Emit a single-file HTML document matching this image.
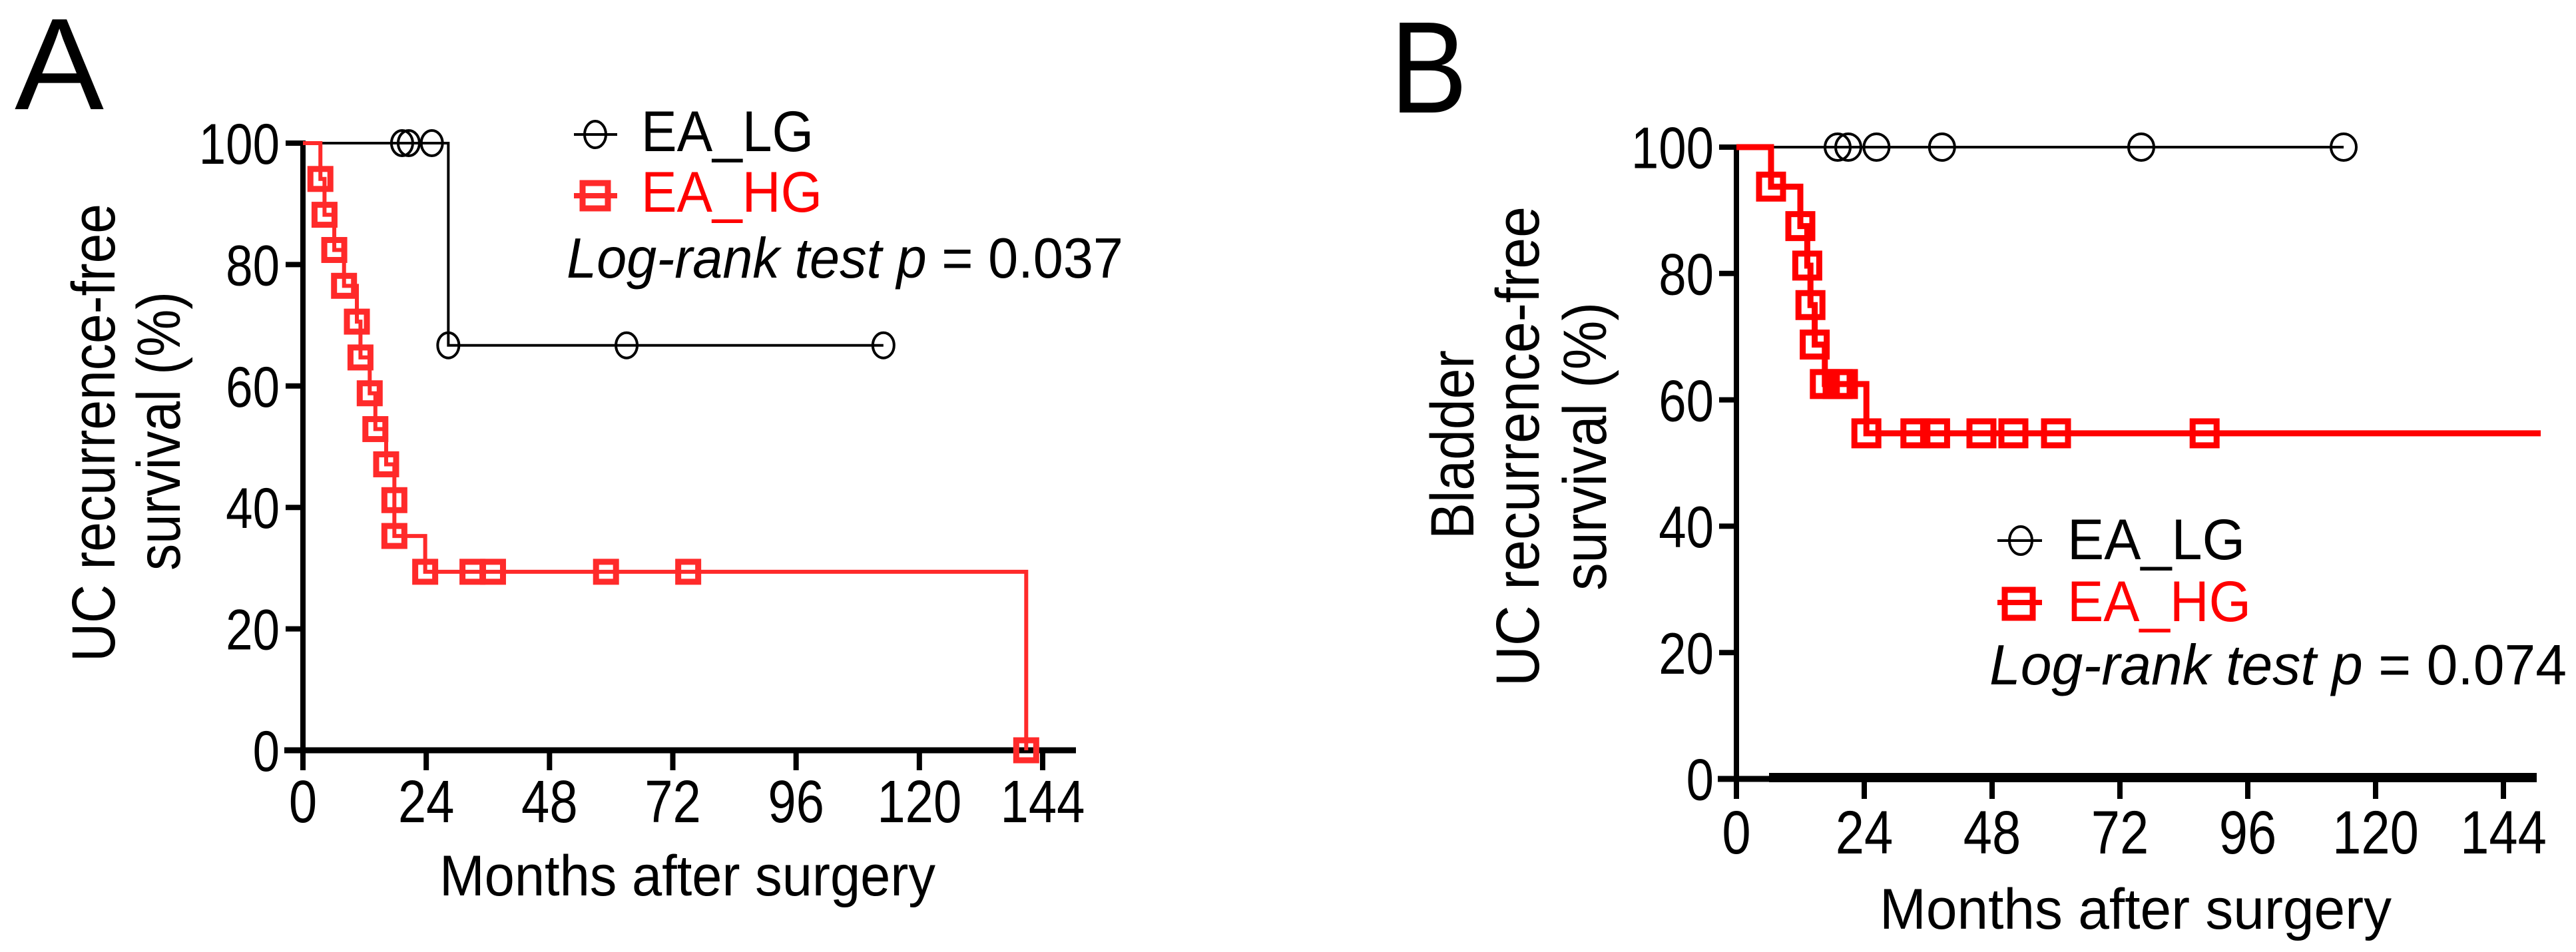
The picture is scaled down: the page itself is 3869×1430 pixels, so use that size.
<!DOCTYPE html>
<html><head><meta charset="utf-8"><style>
html,body{margin:0;padding:0;background:#fff}
svg{display:block}
text{font-family:"Liberation Sans",Arial,sans-serif}
</style></head><body>
<svg id="fig" width="3869" height="1430" viewBox="0 0 3869 1430" xmlns="http://www.w3.org/2000/svg">
<text x="22" y="164" font-size="196" textLength="134" lengthAdjust="spacingAndGlyphs">A</text>
<text x="2088" y="169" font-size="196" textLength="116" lengthAdjust="spacingAndGlyphs">B</text>
<g id="pa"></g>
<g id="pb"></g>
</svg>
<script>
// ---------- data ----------
const xTicks = [0, 24, 48, 72, 96, 120, 144];
const yTicks = [0, 20, 40, 60, 80, 100];
// Panel A
const aLgEventT = [28.3];
const aLgEventS = [66.7];
const aLgCensorT = [19.3, 20.6, 25.1, 63, 113];
const aLgCensorS = [100, 100, 100, 66.7, 66.7];
const aLgEnd = 113;
const aHgEventT = [3.4, 4.2, 6.1, 8.0, 10.5, 11.2, 13.0, 14.1, 16.2, 17.8, 17.8, 23.8, 140.8];
const aHgEventS = [94.1, 88.2, 82.4, 76.5, 70.6, 64.7, 58.8, 52.9, 47.1, 41.2, 35.3, 29.4, 0];
const aHgCensorT = [33, 37, 59, 75];
const aHgCensorS = [29.4, 29.4, 29.4, 29.4];
const aHgEnd = 140.8;
// Panel B
const bLgEventT = [];
const bLgEventS = [];
const bLgCensorT = [19, 21, 26.3, 38.6, 76, 114];
const bLgCensorS = [100, 100, 100, 100, 100, 100];
const bLgEnd = 114;
const bHgEventT = [6.5, 12, 13.3, 13.9, 14.7, 16.6, 24.4];
const bHgEventS = [93.75, 87.5, 81.25, 75, 68.75, 62.5, 54.7];
const bHgCensorT = [19, 20, 33.6, 37.3, 46, 52, 60, 87.9];
const bHgCensorS = [62.5, 62.5, 54.7, 54.7, 54.7, 54.7, 54.7, 54.7];
const bHgEnd = 151;

const NS = "http://www.w3.org/2000/svg";
function mk(parent, tag, attrs){ const e=document.createElementNS(NS,tag); for(const k in attrs) e.setAttribute(k,attrs[k]); parent.appendChild(e); return e; }

function drawPanel(g, cfg){
  const sx = t => cfg.x0 + (t/144)*(cfg.x144-cfg.x0);
  const sy = s => cfg.y0 - (s/100)*(cfg.y0-cfg.y100);
  // axes
  const ya = mk(g,'line',{x1:sx(0),y1:cfg.y100-4,x2:sx(0),y2:cfg.y0+4,stroke:'#000','stroke-width':8});
  
  
  const xa = mk(g,'line',{x1:cfg.x0-28,y1:cfg.y0,x2:cfg.xEnd,y2:cfg.y0,stroke:'#000','stroke-width':cfg.xw});
  
  
  yTicks.forEach(v=>{
    const t = mk(g,'line',{x1:cfg.x0-26,y1:sy(v),x2:cfg.x0,y2:sy(v),stroke:'#000','stroke-width':8});
    
    
    const s=String(v);
    const lb = mk(g,'text',{x:cfg.ylabR,y:sy(v)+cfg.yfs*0.36,'font-size':cfg.yfs,'text-anchor':'end',textLength:s.length*cfg.yfs*0.47,lengthAdjust:'spacingAndGlyphs'});
    lb.textContent=s;
    
    
  });
  xTicks.forEach(v=>{
    const t = mk(g,'line',{x1:sx(v),y1:cfg.y0,x2:sx(v),y2:cfg.y0+30,stroke:'#000','stroke-width':8});
    
    
    const s=String(v);
    const lb = mk(g,'text',{x:sx(v),y:cfg.xlabY,'font-size':cfg.xfs,'text-anchor':'middle',textLength:s.length*cfg.xfs*0.47,lengthAdjust:'spacingAndGlyphs'});
    lb.textContent=s;
    
    
  });
  // series
  cfg.series.forEach(se=>{
    let d = 'M'+sx(0)+' '+sy(100);
    let cur = 100;
    se.et.forEach((t,i)=>{ d += ' H'+sx(t)+' V'+sy(se.es[i]); cur=se.es[i]; });
    d += ' H'+sx(se.end);
    const p = mk(g,'path',{d:d,fill:'none',stroke:se.color,'stroke-width':se.lw});
    
    
    const pts = se.et.map((t,i)=>[t,se.es[i]]).concat(se.ct.map((t,i)=>[t,se.cs[i]]));
    pts.forEach(pt=>{
      let m;
      if(se.shape==='circle'){
        m = mk(g,'ellipse',{cx:sx(pt[0]),cy:sy(pt[1]),rx:se.r,ry:se.ry,fill:'none',stroke:se.color,'stroke-width':4});
      } else {
        m = mk(g,'rect',{x:sx(pt[0])-se.r,y:sy(pt[1])-se.r,width:2*se.r,height:2*se.r,fill:'none',stroke:se.color,'stroke-width':9});
      }
      
      
    });
  });
}

drawPanel(document.getElementById('pa'),{
  x0:455,x144:1566,y0:1127,y100:215,xEnd:1616,xw:9,ylabR:420,yfs:86,xfs:90,xlabY:1235,
  series:[
    {name:'ea-lg',et:aLgEventT,es:aLgEventS,ct:aLgCensorT,cs:aLgCensorS,end:aLgEnd,color:'#000',lw:4,shape:'circle',r:16,ry:19},
    {name:'ea-hg',et:aHgEventT,es:aHgEventS,ct:aHgCensorT,cs:aHgCensorS,end:aHgEnd,color:'#ff2a2a',lw:6,shape:'square',r:15}
  ]});
drawPanel(document.getElementById('pb'),{
  x0:2608,x144:3760,y0:1170,y100:221,xEnd:3810,xw:9,ylabR:2574,yfs:88,xfs:92,xlabY:1282,
  series:[
    {name:'ea-lg',et:bLgEventT,es:bLgEventS,ct:bLgCensorT,cs:bLgCensorS,end:bLgEnd,color:'#000',lw:4,shape:'circle',r:19,ry:20},
    {name:'ea-hg',et:bHgEventT,es:bHgEventS,ct:bHgCensorT,cs:bHgCensorS,end:bHgEnd,color:'#ff0000',lw:9,shape:'square',r:18}
  ]});
</script>
<svg style="position:absolute;left:0;top:0" width="3869" height="1430" viewBox="0 0 3869 1430" xmlns="http://www.w3.org/2000/svg">
<rect x="2657" y="1161" width="1153" height="14" fill="#000"/>
<!-- Panel A titles -->
<text transform="translate(172,994) rotate(-90)" font-size="92" textLength="688" lengthAdjust="spacingAndGlyphs">UC recurrence-free</text>
<text transform="translate(270,857) rotate(-90)" font-size="92" textLength="419" lengthAdjust="spacingAndGlyphs">survival (%)</text>
<text x="660" y="1345" font-size="86" textLength="745" lengthAdjust="spacingAndGlyphs">Months after surgery</text>
<!-- Panel A legend -->
<g>
<line x1="862" y1="202" x2="927" y2="202" stroke="#000" stroke-width="4"/>
<ellipse cx="894" cy="202" rx="16" ry="20" fill="none" stroke="#000" stroke-width="4"/>
<text x="963" y="227" font-size="86" textLength="259" lengthAdjust="spacingAndGlyphs">EA_LG</text>
<line x1="862" y1="294" x2="927" y2="294" stroke="#ff2a2a" stroke-width="8"/>
<rect x="875" y="275" width="38" height="38" fill="none" stroke="#ff2a2a" stroke-width="9"/>
<text x="963" y="318" font-size="86" fill="#ff0000" textLength="272" lengthAdjust="spacingAndGlyphs">EA_HG</text>
<text x="851" y="417" font-size="85" textLength="836" lengthAdjust="spacingAndGlyphs"><tspan font-style="italic">Log-rank test p</tspan> = 0.037</text>
</g>
<!-- Panel B titles -->
<text transform="translate(2213,810) rotate(-90)" font-size="92" textLength="284" lengthAdjust="spacingAndGlyphs">Bladder</text>
<text transform="translate(2311,1031) rotate(-90)" font-size="92" textLength="721" lengthAdjust="spacingAndGlyphs">UC recurrence-free</text>
<text transform="translate(2412,887) rotate(-90)" font-size="92" textLength="433" lengthAdjust="spacingAndGlyphs">survival (%)</text>
<text x="2823" y="1395" font-size="86" textLength="769" lengthAdjust="spacingAndGlyphs">Months after surgery</text>
<!-- Panel B legend -->
<g>
<line x1="3000" y1="812" x2="3067" y2="812" stroke="#000" stroke-width="4"/>
<ellipse cx="3035" cy="812" rx="17" ry="21" fill="none" stroke="#000" stroke-width="4"/>
<text x="3105" y="840" font-size="86" textLength="267" lengthAdjust="spacingAndGlyphs">EA_LG</text>
<line x1="3000" y1="905" x2="3067" y2="905" stroke="#ff0000" stroke-width="8"/>
<rect x="3011" y="886" width="42" height="42" fill="none" stroke="#ff0000" stroke-width="9"/>
<text x="3105" y="933" font-size="86" fill="#ff0000" textLength="276" lengthAdjust="spacingAndGlyphs">EA_HG</text>
<text x="2988" y="1028" font-size="85" textLength="867" lengthAdjust="spacingAndGlyphs"><tspan font-style="italic">Log-rank test p</tspan> = 0.074</text>
</g>
</svg>
</body></html>
